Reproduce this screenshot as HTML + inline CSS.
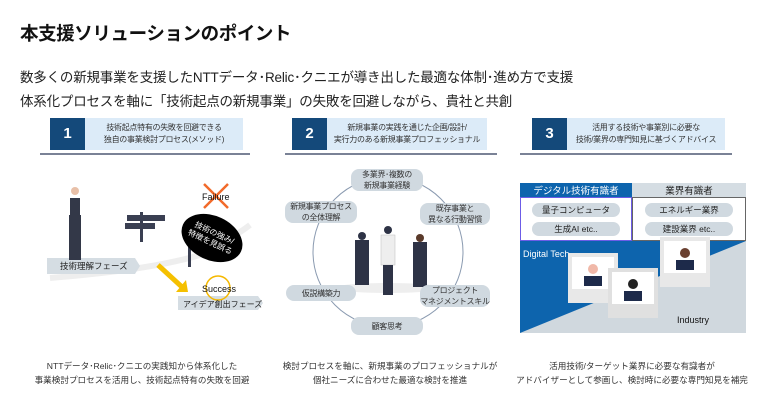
<!DOCTYPE html>
<html><head><meta charset="utf-8"><style>
body{margin:0;width:780px;height:412px;background:#fff;font-family:"Liberation Sans","Noto Sans CJK JP",sans-serif;color:#222;position:relative;overflow:hidden}
.a{position:absolute;white-space:nowrap}
.hd{position:absolute;height:32px;background:#dcebf8;}
.hd .n{position:absolute;left:0;top:0;width:35px;height:32px;background:#14497a;color:#fff;font-weight:bold;font-size:15px;text-align:center;line-height:32px}
.hd .t{position:absolute;left:35px;right:0;top:4px;font-size:8px;line-height:12px;text-align:center;color:#333;white-space:nowrap;letter-spacing:-0.3px}
.ln{position:absolute;height:2px;background:#7a8296;top:153px}
.cap{position:absolute;font-size:8.6px;line-height:14px;text-align:center;color:#333;white-space:nowrap}
.pl{position:absolute;background:#d0d9e0;border-radius:8px;font-size:8px;line-height:11px;text-align:center;color:#333;display:flex;align-items:center;justify-content:center;white-space:nowrap;letter-spacing:-0.3px}
</style></head><body>
<div class="a" style="left:20px;top:20px;font-size:18.5px;font-weight:bold;color:#111;letter-spacing:-0.4px">本支援ソリューションのポイント</div>
<div class="a" style="left:20px;top:66px;font-size:13.5px;line-height:24px;color:#222;letter-spacing:-0.2px">数多くの新規事業を支援したNTTデータ･Relic･クニエが導き出した最適な体制･進め方で支援<br>体系化プロセスを軸に「技術起点の新規事業」の失敗を回避しながら、貴社と共創</div>

<div class="hd" style="left:50px;top:118px;width:193px"><div class="n">1</div><div class="t">技術起点特有の失敗を回避できる<br>独自の事業検討プロセス(メソッド)</div></div>
<div class="ln" style="left:40px;width:210px"></div>
<div class="hd" style="left:292px;top:118px;width:195px"><div class="n">2</div><div class="t">新規事業の実践を通じた企画/設計/<br>実行力のある新規事業プロフェッショナル</div></div>
<div class="ln" style="left:285px;width:212px"></div>
<div class="hd" style="left:532px;top:118px;width:193px"><div class="n">3</div><div class="t">活用する技術や事業別に必要な<br>技術/業界の専門知見に基づくアドバイス</div></div>
<div class="ln" style="left:520px;width:212px"></div>

<!-- panel1 -->
<svg class="a" style="left:0;top:160px" width="280" height="170">
<path d="M50 118 Q150 110 200 95 Q230 80 250 65" stroke="#eee" stroke-width="6" fill="none"/>
<polygon points="47,98 135,98 140,106 135,114 47,114" fill="#d5dde3"/>
<polygon points="178,136 258,136 263,143 258,150 178,150" fill="#d5dde3"/>
<rect x="70" y="38" width="10" height="22" fill="#333848"/>
<circle cx="75" cy="31" r="4" fill="#e8c0a8"/>
<rect x="69" y="55" width="12" height="45" fill="#333848"/>
<rect x="140" y="52" width="3" height="30" fill="#3a3f52"/><rect x="127" y="55" width="38" height="6" fill="#3a3f52"/><rect x="125" y="63" width="30" height="6" fill="#3a3f52"/>
<rect x="188" y="72" width="3" height="35" fill="#3a3f52"/><rect x="185" y="74" width="26" height="6" fill="#3a3f52"/>
<ellipse cx="212" cy="78" rx="32" ry="22" transform="rotate(25 212 78)" fill="#000"/>
<text x="212" y="75" font-size="8" fill="#fff" text-anchor="middle" transform="rotate(25 212 78)">技術の強み/</text>
<text x="212" y="85" font-size="8" fill="#fff" text-anchor="middle" transform="rotate(25 212 78)">特徴を見誤る</text>
<line x1="204" y1="24" x2="228" y2="48" stroke="#f26a2a" stroke-width="2.5"/><line x1="228" y1="24" x2="204" y2="48" stroke="#f26a2a" stroke-width="2.5"/>
<text x="202" y="40" font-size="9" fill="#111">Failure</text>
<line x1="158" y1="105" x2="182" y2="127" stroke="#f5c000" stroke-width="5"/><polygon points="176,132 188,132 186,120" fill="#f5c000"/>
<circle cx="218" cy="128" r="12" fill="none" stroke="#f5b800" stroke-width="1.5"/>
<text x="202" y="132" font-size="9" fill="#111">Success</text>
<text x="60" y="109" font-size="8.5" fill="#222">技術理解フェーズ</text>
<text x="183" y="147" font-size="8" fill="#222">アイデア創出フェーズ</text>
</svg>
<div class="cap" style="left:22px;top:359px;width:240px">NTTデータ･Relic･クニエの実践知から体系化した<br>事業検討プロセスを活用し、技術起点特有の失敗を回避</div>

<!-- panel2 -->
<svg class="a" style="left:270px;top:160px" width="240" height="180"><circle cx="118" cy="92" r="75" fill="none" stroke="#8a9ab0" stroke-width="1"/>
<ellipse cx="118" cy="128" rx="55" ry="5" fill="#eee"/>
<rect x="85" y="80" width="14" height="45" fill="#2e3346"/><circle cx="92" cy="76" r="4" fill="#2e3346"/>
<rect x="111" y="75" width="14" height="30" fill="#eee" stroke="#bbb" stroke-width=".5"/><rect x="113" y="105" width="10" height="30" fill="#2e3346"/><circle cx="118" cy="70" r="4" fill="#2e3346"/>
<rect x="143" y="82" width="14" height="45" fill="#2e3346"/><circle cx="150" cy="78" r="4" fill="#5a3a2a"/>
</svg>
<div class="pl" style="left:351px;top:169px;width:72px;height:22px">多業界･複数の<br>新規事業経験</div>
<div class="pl" style="left:285px;top:201px;width:72px;height:22px">新規事業プロセス<br>の全体理解</div>
<div class="pl" style="left:420px;top:203px;width:70px;height:22px">既存事業と<br>異なる行動習慣</div>
<div class="pl" style="left:286px;top:285px;width:70px;height:16px">仮説構築力</div>
<div class="pl" style="left:420px;top:285px;width:70px;height:22px">プロジェクト<br>マネジメントスキル</div>
<div class="pl" style="left:351px;top:317px;width:72px;height:18px">顧客思考</div>
<div class="cap" style="left:270px;top:359px;width:240px">検討プロセスを軸に、新規事業のプロフェッショナルが<br>個社ニーズに合わせた最適な検討を推進</div>

<!-- panel3 -->
<svg class="a" style="left:520px;top:183px" width="226" height="150">
<rect x="0" y="0" width="112" height="14" fill="#0d64ad"/><rect x="112" y="0" width="114" height="14" fill="#d5dde3"/>
<rect x="0.5" y="14.5" width="111" height="43" fill="#fff" stroke="#6c5ce7" stroke-width="1"/>
<rect x="112.5" y="14.5" width="113" height="43" fill="#fff" stroke="#666" stroke-width="1"/>
<rect x="0" y="58" width="226" height="92" fill="#d0d8de"/>
<polygon points="0,58 226,58 0,150" fill="#0d64ad"/>
<text x="56" y="11" font-size="9.5" fill="#fff" text-anchor="middle">デジタル技術有識者</text>
<text x="169" y="11" font-size="9.5" fill="#222" text-anchor="middle">業界有識者</text>
<rect x="12" y="20" width="88" height="14" rx="7" fill="#d0d9e0"/><text x="56" y="30" font-size="8.5" text-anchor="middle" fill="#222">量子コンピュータ</text>
<rect x="12" y="39" width="88" height="14" rx="7" fill="#d0d9e0"/><text x="56" y="49" font-size="8.5" text-anchor="middle" fill="#222">生成AI etc..</text>
<rect x="125" y="20" width="88" height="14" rx="7" fill="#d0d9e0"/><text x="169" y="30" font-size="8.5" text-anchor="middle" fill="#222">エネルギー業界</text>
<rect x="125" y="39" width="88" height="14" rx="7" fill="#d0d9e0"/><text x="169" y="49" font-size="8.5" text-anchor="middle" fill="#222">建設業界 etc..</text>
<text x="3" y="74" font-size="9" fill="#fff">Digital Tech</text>
<text x="157" y="140" font-size="9" fill="#111">Industry</text>
<rect x="48" y="70" width="50" height="50" fill="#e8e8e8"/><rect x="52" y="74" width="42" height="32" fill="#fff"/><circle cx="73" cy="86" r="5" fill="#f0b8a8"/><rect x="64" y="93" width="18" height="10" fill="#1d2a4a"/>
<rect x="140" y="54" width="50" height="50" fill="#e8e8e8"/><rect x="144" y="58" width="42" height="32" fill="#fff"/><circle cx="165" cy="70" r="5" fill="#6a4030"/><rect x="156" y="77" width="18" height="10" fill="#1d2a4a"/>
<rect x="88" y="85" width="50" height="50" fill="#e0e0e0"/><rect x="92" y="89" width="42" height="32" fill="#fff"/><circle cx="113" cy="101" r="5" fill="#222"/><rect x="104" y="108" width="18" height="10" fill="#1d2a4a"/>
</svg>
<div class="cap" style="left:512px;top:359px;width:240px">活用技術/ターゲット業界に必要な有識者が<br>アドバイザーとして参画し、検討時に必要な専門知見を補完</div>
</body></html>
